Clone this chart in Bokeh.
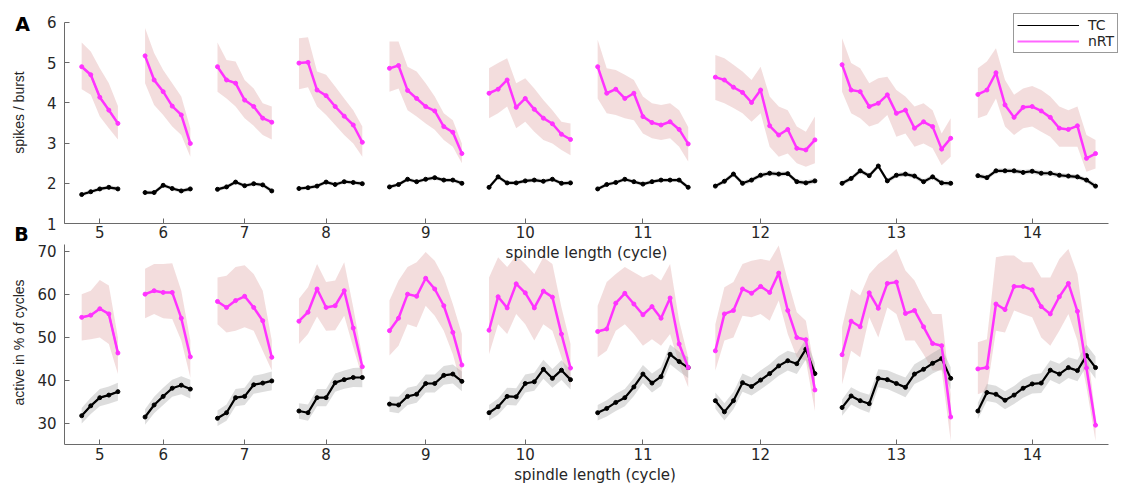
import math
from bokeh.plotting import figure
from bokeh.models import Range1d, FixedTicker, Label, Legend, LegendItem, CustomJSTickFormatter
from bokeh.layouts import column, row
from bokeh.embed import file_html
from bokeh.resources import INLINE

LENGTHS = [5, 6, 7, 8, 9, 10, 11, 12, 13, 14]

# ---------- Panel A : spikes / burst ----------
A_NRT = [
    [4.90, 4.70, 4.14, 3.82, 3.49],
    [5.17, 4.57, 4.28, 3.92, 3.70, 2.99],
    [4.90, 4.57, 4.49, 4.07, 3.91, 3.62, 3.52],
    [4.99, 5.01, 4.32, 4.18, 3.91, 3.67, 3.45, 3.02],
    [4.86, 4.93, 4.31, 4.11, 3.91, 3.80, 3.41, 3.27, 2.74],
    [4.24, 4.34, 4.57, 3.89, 4.11, 3.84, 3.62, 3.48, 3.22, 3.09],
    [4.90, 4.24, 4.34, 4.11, 4.24, 3.66, 3.51, 3.45, 3.53, 3.34, 2.98],
    [4.64, 4.57, 4.39, 4.26, 4.01, 4.32, 3.43, 3.20, 3.34, 2.87, 2.83, 3.08],
    [4.95, 4.32, 4.28, 3.91, 3.99, 4.20, 3.74, 3.82, 3.37, 3.53, 3.41, 2.85, 3.12],
    [4.21, 4.32, 4.75, 3.95, 3.64, 3.89, 3.91, 3.80, 3.64, 3.37, 3.34, 3.43, 2.62, 2.74],
]
A_NRT_HI = [
    [5.50, 5.28, 4.86, 4.49, 3.92],
    [5.86, 5.24, 4.82, 4.49, 4.16, 3.37],
    [5.50, 5.07, 5.03, 4.57, 4.36, 3.99, 3.91],
    [5.61, 5.63, 4.78, 4.70, 4.41, 4.11, 3.82, 3.41],
    [5.53, 5.53, 4.90, 4.78, 4.49, 4.16, 3.74, 3.57, 2.99],
    [4.86, 4.99, 5.11, 4.49, 4.61, 4.36, 4.07, 3.82, 3.53, 3.49],
    [5.57, 4.86, 4.82, 4.70, 4.57, 4.16, 3.99, 3.95, 3.99, 3.82, 3.40],
    [5.19, 5.11, 4.95, 4.78, 4.57, 4.90, 4.16, 3.91, 3.82, 3.41, 3.28, 3.66],
    [5.61, 4.99, 4.86, 4.49, 4.61, 4.65, 4.32, 4.16, 3.91, 3.99, 3.82, 3.24, 3.62],
    [4.86, 5.03, 5.36, 4.57, 4.20, 4.36, 4.42, 4.32, 4.16, 3.91, 3.82, 3.91, 3.20, 3.08],
]
A_NRT_LO = [
    [4.34, 4.20, 3.66, 3.37, 3.09],
    [4.49, 3.95, 3.70, 3.41, 3.20, 2.66],
    [4.28, 4.11, 3.91, 3.62, 3.43, 3.20, 3.09],
    [4.34, 4.39, 3.91, 3.70, 3.45, 3.20, 2.99, 2.66],
    [4.28, 4.36, 3.82, 3.66, 3.49, 3.33, 3.08, 2.91, 2.50],
    [3.62, 3.74, 3.91, 3.37, 3.53, 3.28, 3.08, 2.99, 2.83, 2.70],
    [4.11, 3.74, 3.70, 3.62, 3.57, 3.24, 3.12, 3.08, 3.12, 2.91, 2.54],
    [4.07, 3.99, 3.87, 3.74, 3.53, 3.74, 2.91, 2.66, 2.74, 2.50, 2.41, 2.50],
    [4.28, 3.74, 3.62, 3.41, 3.49, 3.70, 3.16, 3.24, 2.91, 2.99, 2.87, 2.45, 2.66],
    [3.62, 3.70, 4.11, 3.41, 3.20, 3.37, 3.41, 3.28, 3.16, 2.91, 2.91, 2.91, 2.29, 2.37],
]
A_TC = [
    [1.72, 1.79, 1.86, 1.90, 1.86],
    [1.77, 1.77, 1.95, 1.87, 1.81, 1.86],
    [1.85, 1.91, 2.03, 1.94, 1.99, 1.96, 1.81],
    [1.87, 1.89, 1.93, 2.03, 1.97, 2.04, 2.02, 1.99],
    [1.91, 1.97, 2.10, 2.04, 2.10, 2.14, 2.08, 2.08, 2.00],
    [1.90, 2.16, 2.01, 2.01, 2.06, 2.08, 2.05, 2.10, 2.00, 2.01],
    [1.86, 1.97, 2.02, 2.10, 2.04, 1.98, 2.04, 2.08, 2.08, 2.08, 1.90],
    [1.93, 2.05, 2.23, 2.00, 2.08, 2.20, 2.25, 2.23, 2.24, 2.04, 2.01, 2.06],
    [2.00, 2.12, 2.31, 2.19, 2.43, 2.06, 2.20, 2.23, 2.18, 2.04, 2.16, 2.01, 2.00],
    [2.19, 2.14, 2.31, 2.31, 2.31, 2.27, 2.30, 2.25, 2.25, 2.20, 2.18, 2.16, 2.08, 1.93],
]
A_TC_ERR = [
    [0.05, 0.05, 0.05, 0.05, 0.06],
    [0.05, 0.05, 0.05, 0.05, 0.05, 0.06],
    [0.05, 0.05, 0.05, 0.05, 0.05, 0.05, 0.06],
    [0.05, 0.05, 0.05, 0.05, 0.05, 0.05, 0.05, 0.06],
    [0.05, 0.05, 0.05, 0.05, 0.05, 0.05, 0.05, 0.05, 0.06],
    [0.05, 0.05, 0.05, 0.05, 0.05, 0.05, 0.05, 0.05, 0.05, 0.06],
    [0.05, 0.05, 0.05, 0.05, 0.05, 0.05, 0.05, 0.05, 0.05, 0.05, 0.06],
    [0.05, 0.06, 0.06, 0.06, 0.06, 0.06, 0.06, 0.06, 0.06, 0.06, 0.06, 0.07],
    [0.06, 0.06, 0.06, 0.06, 0.06, 0.06, 0.06, 0.06, 0.06, 0.06, 0.06, 0.06, 0.07],
    [0.06, 0.06, 0.06, 0.06, 0.06, 0.06, 0.06, 0.06, 0.06, 0.06, 0.06, 0.06, 0.06, 0.07],
]

# ---------- Panel B : active in % of cycles ----------
B_NRT = [
    [54.6, 55.1, 56.6, 55.4, 46.3],
    [60.0, 60.8, 60.4, 60.4, 54.4, 45.4],
    [58.3, 56.9, 58.5, 59.5, 56.9, 53.8, 45.3],
    [53.7, 55.8, 61.2, 56.9, 57.3, 60.8, 52.1, 43.1],
    [51.5, 54.4, 60.0, 59.5, 63.7, 61.2, 57.3, 51.1, 43.5],
    [51.6, 59.4, 56.8, 62.4, 60.3, 56.8, 60.7, 59.3, 50.7, 42.8],
    [51.3, 51.9, 57.9, 60.2, 57.7, 55.2, 57.1, 54.4, 59.1, 48.4, 42.9],
    [46.8, 55.4, 56.2, 61.2, 60.2, 61.8, 60.4, 64.9, 56.2, 49.9, 49.4, 37.7],
    [45.9, 53.7, 52.4, 60.3, 56.7, 62.5, 62.8, 55.5, 56.2, 52.4, 48.5, 48.0, 31.4],
    [42.6, 42.9, 57.7, 56.4, 61.8, 61.8, 61.0, 57.1, 55.4, 59.4, 62.5, 56.0, 42.8, 29.5],
]
B_NRT_HI = [
    [60.0, 60.8, 63.3, 62.0, 49.9],
    [65.9, 67.0, 67.0, 67.2, 60.8, 49.2],
    [63.9, 64.3, 66.3, 66.7, 64.7, 60.8, 49.2],
    [58.9, 61.6, 67.0, 62.8, 63.2, 67.4, 56.9, 45.3],
    [58.5, 63.2, 66.3, 67.4, 69.8, 67.8, 63.9, 57.7, 50.7],
    [63.9, 68.6, 66.3, 69.0, 67.0, 64.7, 68.6, 67.0, 56.9, 48.4],
    [57.3, 62.8, 64.7, 66.3, 65.1, 63.9, 64.7, 63.2, 67.0, 53.8, 45.3],
    [53.0, 61.6, 62.8, 67.0, 67.8, 68.2, 67.8, 71.3, 63.2, 55.8, 53.8, 42.2],
    [52.3, 61.2, 59.7, 64.7, 67.0, 68.6, 70.5, 65.5, 63.2, 58.9, 55.4, 55.4, 36.7],
    [48.8, 49.5, 68.6, 69.0, 69.0, 67.4, 67.4, 63.9, 63.9, 68.2, 70.5, 64.7, 49.2, 31.3],
]
B_NRT_LO = [
    [49.2, 49.5, 49.9, 48.4, 41.4],
    [54.4, 55.4, 54.4, 54.2, 49.2, 40.6],
    [53.0, 51.1, 51.5, 52.3, 51.5, 46.8, 42.2],
    [48.4, 50.7, 54.8, 51.5, 51.6, 55.0, 47.6, 40.6],
    [45.7, 48.0, 53.0, 52.3, 57.3, 55.0, 51.5, 46.0, 38.3],
    [46.0, 53.0, 50.7, 55.4, 53.0, 49.2, 53.0, 51.5, 45.3, 38.3],
    [45.3, 46.8, 51.5, 53.0, 50.7, 48.0, 49.5, 48.0, 50.7, 43.7, 38.3],
    [42.2, 49.2, 49.9, 55.0, 54.6, 55.4, 53.8, 58.5, 50.7, 45.3, 44.5, 32.8],
    [39.0, 46.8, 45.3, 54.6, 49.9, 56.9, 55.4, 49.2, 49.2, 46.0, 42.2, 42.2, 25.8],
    [36.7, 37.5, 51.5, 51.1, 56.2, 55.4, 54.6, 49.9, 48.0, 51.5, 55.4, 49.2, 38.3, 25.8],
]
B_TC = [
    [31.7, 34.0, 35.9, 36.5, 37.3],
    [31.4, 34.2, 36.2, 38.1, 38.8, 37.9],
    [31.1, 32.4, 35.9, 36.2, 38.9, 39.3, 39.8],
    [32.8, 32.4, 35.9, 35.9, 39.4, 40.1, 40.6, 40.6],
    [34.4, 34.2, 36.2, 36.7, 39.2, 39.2, 41.1, 41.4, 39.7],
    [32.4, 33.8, 36.2, 36.1, 39.2, 39.6, 42.5, 40.4, 42.3, 40.1],
    [32.4, 33.4, 34.8, 35.9, 38.4, 41.4, 39.3, 40.8, 46.0, 44.3, 42.9],
    [35.2, 32.6, 35.2, 39.4, 38.5, 40.0, 41.5, 43.3, 44.5, 43.8, 47.2, 41.5],
    [33.6, 36.3, 35.2, 34.5, 40.4, 40.1, 39.2, 38.3, 41.4, 42.5, 43.9, 45.0, 40.4],
    [32.8, 37.1, 36.7, 35.3, 36.5, 38.1, 39.1, 39.3, 42.3, 41.4, 42.9, 42.2, 45.7, 42.9],
]
B_TC_ERR = [
    [1.8, 1.9, 2.0, 2.0, 2.1],
    [1.8, 1.9, 2.0, 2.0, 2.1, 2.2],
    [1.8, 1.9, 2.0, 2.0, 2.1, 2.1, 2.2],
    [1.8, 1.9, 2.0, 2.0, 2.1, 2.1, 2.2, 2.3],
    [1.8, 1.9, 2.0, 2.0, 2.1, 2.1, 2.2, 2.2, 2.3],
    [1.8, 1.9, 2.0, 2.0, 2.1, 2.1, 2.2, 2.2, 2.3, 2.3],
    [1.8, 1.9, 2.0, 2.0, 2.1, 2.1, 2.2, 2.2, 2.3, 2.3, 2.4],
    [1.9, 2.0, 2.0, 2.1, 2.1, 2.2, 2.2, 2.3, 2.3, 2.4, 2.4, 2.5],
    [1.9, 2.0, 2.0, 2.1, 2.1, 2.2, 2.2, 2.3, 2.3, 2.4, 2.4, 2.5, 2.6],
    [1.9, 2.0, 2.0, 2.1, 2.1, 2.2, 2.2, 2.3, 2.3, 2.4, 2.4, 2.5, 2.5, 2.6],
]

# ---------- layout / style ----------
GAP = 3            # distance (in point slots) between last point of a group and first of the next
MAG = "#ff33ff"
PINK = "#e4b4b4"
GREY = "#aaaaaa"
TXT = "#262626"
AXC = "#6a6a6a"
HFONT = "DejaVu Sans"
VFONT = "Liberation Sans"

starts = []
s = 0
for n in LENGTHS:
    starts.append(s)
    s += n - 1 + GAP
XS = [[st + i for i in range(n)] for st, n in zip(starts, LENGTHS)]
TICKS = [xs[(n - 1) // 2] for xs, n in zip(XS, LENGTHS)]
X0 = -1.90          # left end of the x axis
X1 = 113.43         # right end of the x axis line
XF = 115.31         # right edge of the plotting frame (room for the legend)

fmt = CustomJSTickFormatter(args=dict(c=TICKS, l=[str(n) for n in LENGTHS]), code="""
for (let i = 0; i < c.length; i++) { if (Math.abs(c[i] - tick) < 1e-6) return l[i]; }
return "";
""")

STRIP_W = 34
FIG_W = 1125 - STRIP_W


def make_fig(height, yr, ybounds, yticks, top, bottom, xstandoff):
    p = figure(width=FIG_W, height=height, x_range=Range1d(X0, XF), y_range=Range1d(*yr),
               output_backend="svg", toolbar_location=None,
               min_border_left=64 - STRIP_W, min_border_right=0,
               min_border_top=top, min_border_bottom=bottom)
    p.grid.visible = False
    p.outline_line_color = None
    p.background_fill_color = "white"
    p.border_fill_color = "white"
    for ax in (p.xaxis[0], p.yaxis[0]):
        ax.axis_line_color = AXC
        ax.major_tick_line_color = AXC
        ax.major_tick_in = 5
        ax.major_tick_out = 0
        ax.minor_tick_line_color = None
        ax.major_label_text_font = HFONT
        ax.major_label_text_font_size = "15px"
        ax.major_label_text_color = TXT
        ax.axis_label_text_font_style = "normal"
        ax.axis_label_text_color = TXT
    p.xaxis.ticker = FixedTicker(ticks=TICKS)
    p.xaxis.formatter = fmt
    p.xaxis.bounds = (X0, X1)
    p.xaxis.major_label_standoff = xstandoff
    p.yaxis.ticker = FixedTicker(ticks=yticks)
    p.yaxis.bounds = ybounds
    p.yaxis.major_label_standoff = 8
    return p


def draw(p, tc, tc_err, nrt, lo, hi):
    for k in range(len(LENGTHS)):
        x = XS[k]
        p.varea(x=x, y1=lo[k], y2=hi[k], fill_color=PINK, fill_alpha=0.45)
        p.varea(x=x, y1=[m - e for m, e in zip(tc[k], tc_err[k])],
                y2=[m + e for m, e in zip(tc[k], tc_err[k])], fill_color=GREY, fill_alpha=0.4)
    # thin copies used only as legend glyphs (hidden under the thick lines)
    leg_tc = p.line(XS[0], tc[0], line_color="black", line_width=1.2)
    leg_nrt = p.line(XS[0], nrt[0], line_color="#ff66ff", line_width=2)
    for k in range(len(LENGTHS)):
        p.line(XS[k], tc[k], line_color="black", line_width=2.2)
        p.scatter(XS[k], tc[k], size=4, color="black")
    for k in range(len(LENGTHS)):
        p.line(XS[k], nrt[k], line_color=MAG, line_width=2.5)
        p.scatter(XS[k], nrt[k], size=4, color=MAG)
    return leg_tc, leg_nrt


# Panel A: frame spans page y 0..223, value 6 sits at y=22
pA = make_fig(243, (1, 6.547), (1, 6), [1, 2, 3, 4, 5, 6], 0, 20, 2)
leg_tc, leg_nrt = draw(pA, A_TC, A_TC_ERR, A_NRT, A_NRT_LO, A_NRT_HI)

# Panel B: frame spans page y 243..444
pB = make_fig(244, (25, 71.79), (25, 71.56), [30, 40, 50, 60, 70], 0, 43, 3)
draw(pB, B_TC, B_TC_ERR, B_NRT, B_NRT_LO, B_NRT_HI)
pB.xaxis.axis_label = "spindle length (cycle)"
pB.xaxis.axis_label_text_font = HFONT
pB.xaxis.axis_label_text_font_size = "15px"
pB.xaxis.axis_label_standoff = 3

# x-axis label of panel A (sits in the top strip of panel B's frame)
pB.add_layout(Label(x=(X0 + X1) / 2, y=69.65, text="spindle length (cycle)", text_align="center",
                    text_baseline="middle", text_font=HFONT, text_font_size="15px", text_color=TXT))

# legend
leg = Legend(items=[LegendItem(label="TC", renderers=[leg_tc]), LegendItem(label="nRT", renderers=[leg_nrt])],
             location=(1013 - 64, 223 - 53), orientation="vertical",
             border_line_color="#333333", border_line_width=1, background_fill_color="white",
             background_fill_alpha=1, label_text_font=HFONT, label_text_font_size="14px",
             label_text_color=TXT, glyph_width=62, glyph_height=14, label_height=14,
             label_standoff=9, spacing=0, padding=3, margin=0)
pA.add_layout(leg)

# left strip: panel letters and y-axis titles
strip = figure(width=STRIP_W, height=487, x_range=Range1d(0, STRIP_W), y_range=Range1d(487, 0),
               output_backend="svg", toolbar_location=None, x_axis_location=None, y_axis_location=None,
               min_border_left=0, min_border_right=0, min_border_top=0, min_border_bottom=0)
strip.grid.visible = False
strip.outline_line_color = None
strip.add_layout(Label(x=22, y=23.5, text="A", text_align="center", text_baseline="middle",
                       text_font=HFONT, text_font_style="bold", text_font_size="19px", text_color="black"))
strip.add_layout(Label(x=21, y=233.5, text="B", text_align="center", text_baseline="middle",
                       text_font=HFONT, text_font_style="bold", text_font_size="19px", text_color="black"))
strip.add_layout(Label(x=18, y=112, text="spikes / burst", angle=math.pi / 2, text_align="center",
                       text_baseline="middle", text_font=VFONT, text_font_size="14px", text_color=TXT))
strip.add_layout(Label(x=18, y=342, text="active in % of cycles", angle=math.pi / 2, text_align="center",
                       text_baseline="middle", text_font=VFONT, text_font_size="14px", text_color=TXT))

layout = row(strip, column(pA, pB, spacing=0), spacing=0)
open("out.html", "w").write(file_html(layout, INLINE))
